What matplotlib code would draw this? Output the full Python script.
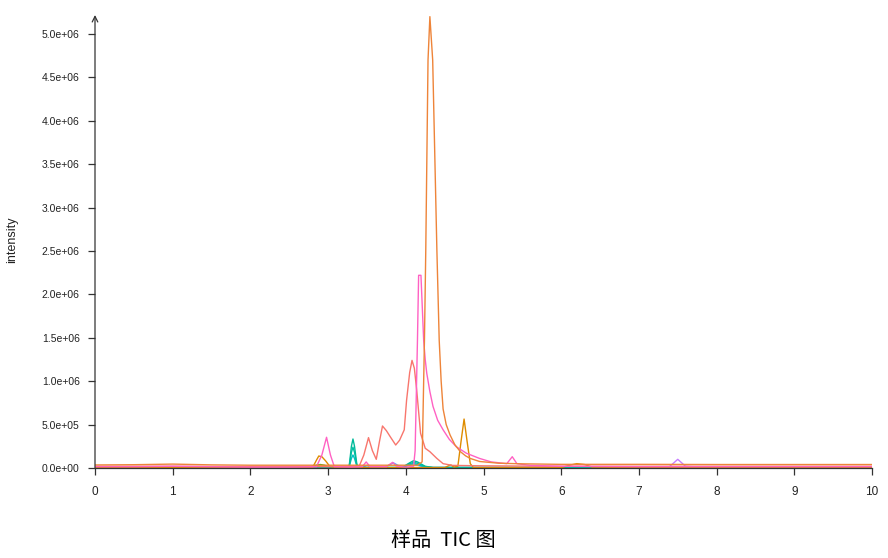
import matplotlib
matplotlib.use("Agg")
import matplotlib.pyplot as plt
from matplotlib.ticker import FuncFormatter

# ---------------- data (retention time in min, intensity) ----------------
orange_x = [0, 0.5, 1.0, 1.5, 2.0, 2.5, 3.0, 3.5, 4.0, 4.15, 4.21, 4.24, 4.257, 4.286, 4.31, 4.346, 4.40, 4.43,
            4.455, 4.48, 4.52, 4.57, 4.63, 4.70, 4.77, 4.83, 4.95, 5.2, 5.5, 6.0, 7.0, 8.0, 9.0, 10.0]
orange_y = [35e3, 38e3, 45e3, 36e3, 32e3, 32e3, 32e3, 32e3, 32e3, 32e3, 70e3, 1.47e6, 2.51e6, 4.70e6, 5.20e6, 4.70e6,
            2.51e6, 1.47e6, 1.0e6, 6.8e5, 5.0e5, 3.8e5, 2.7e5, 1.9e5, 1.4e5, 1.1e5, 7.5e4, 5.5e4, 4.8e4, 4.2e4,
            4.2e4, 4.0e4, 4.0e4, 4.0e4]

pink_x = [0, 0.5, 1.0, 1.5, 2.0, 2.5, 2.85, 2.92, 2.98, 3.03, 3.08, 3.3, 3.44, 3.49, 3.54, 3.75, 3.83, 3.88, 4.0,
          4.10, 4.12, 4.15, 4.165, 4.195, 4.23, 4.25, 4.27, 4.31, 4.35, 4.41, 4.48, 4.56, 4.65, 4.78, 4.95, 5.1,
          5.30, 5.37, 5.43, 5.6, 6.0, 7.0, 8.0, 10.0]
pink_y = [15e3, 15e3, 20e3, 15e3, 10e3, 10e3, 15e3, 1.5e5, 3.54e5, 1.5e5, 1.5e4, 1e4, 1.5e4, 7e4, 1.5e4, 1.5e4,
          6.5e4, 2e4, 1e4, 2e4, 2e5, 1.47e6, 2.22e6, 2.22e6, 1.47e6, 1.25e6, 1.09e6, 8.8e5, 7.1e5, 5.5e5, 4.4e5,
          3.3e5, 2.45e5, 1.7e5, 1.1e5, 7e4, 5e4, 1.3e5, 5e4, 3e4, 2e4, 1.5e4, 1.5e4, 1.5e4]

salmon_x = [0, 1.0, 2.0, 3.0, 3.40, 3.46, 3.52, 3.57, 3.62, 3.66, 3.70, 3.75, 3.80, 3.87, 3.92, 3.98, 4.01, 4.05,
            4.08, 4.11, 4.14, 4.19, 4.25, 4.31, 4.40, 4.48, 4.6, 5.0, 6.0, 8.0, 10.0]
salmon_y = [20e3, 20e3, 15e3, 15e3, 20e3, 1.5e5, 3.5e5, 2.0e5, 1.0e5, 3.0e5, 4.84e5, 4.3e5, 3.6e5, 2.65e5, 3.2e5,
            4.4e5, 7.8e5, 1.1e6, 1.24e6, 1.15e6, 9e5, 4e5, 2.27e5, 1.88e5, 1.1e5, 5e4, 3e4, 2.5e4, 2e4, 2e4, 2e4]

gold_x = [0, 2.7, 2.80, 2.85, 2.88, 2.92, 2.97, 3.02, 3.1, 4.5, 4.55, 4.58, 4.62, 4.67, 4.71, 4.75, 4.79, 4.83,
          4.87, 5.0, 6.0, 6.1, 6.2, 6.3, 6.4, 7.0, 10.0]
gold_y = [5e3, 5e3, 5e3, 9e4, 1.38e5, 1.3e5, 8e4, 2e4, 5e3, 5e3, 2.5e4, 3.5e4, 1e4, 2e4, 3e5, 5.64e5, 3e5, 5e4,
          5e3, 5e3, 5e3, 3e4, 5e4, 4e4, 1e4, 5e3, 5e3]

green_x = [0, 2.75, 2.84, 2.90, 2.96, 3.02, 10.0]
green_y = [4e3, 4e3, 3e4, 4e4, 3e4, 4e3, 4e3]

teal1_x = [0, 3.2, 3.27, 3.30, 3.32, 3.34, 3.37, 3.40, 3.5, 3.95, 4.05, 4.10, 4.15, 4.25, 4.35, 10.0]
teal1_y = [5e3, 5e3, 1e4, 2.5e5, 3.34e5, 2.5e5, 4e4, 1e4, 5e3, 5e3, 6e4, 8.4e4, 7e4, 2e4, 5e3, 5e3]
teal2_x = [0, 3.2, 3.27, 3.30, 3.32, 3.34, 3.37, 3.40, 3.5, 3.95, 4.05, 4.10, 4.15, 4.25, 4.35, 10.0]
teal2_y = [5e3, 5e3, 1e4, 1.8e5, 2.4e5, 1.8e5, 3e4, 1e4, 5e3, 5e3, 5e4, 6.5e4, 5.5e4, 1.5e4, 5e3, 5e3]
teal3_x = [0, 3.2, 3.27, 3.30, 3.32, 3.34, 3.37, 3.40, 3.5, 3.95, 4.05, 4.10, 4.15, 4.25, 4.35, 10.0]
teal3_y = [5e3, 5e3, 1e4, 1.1e5, 1.5e5, 1.1e5, 2e4, 1e4, 5e3, 5e3, 4e4, 5e4, 4e4, 1e4, 5e3, 5e3]

blue_x = [0, 3.7, 3.78, 3.84, 3.90, 3.98, 4.05, 4.10, 4.16, 4.25, 10.0]
blue_y = [4e3, 4e3, 3e4, 6e4, 3e4, 1e4, 3e4, 5e4, 3e4, 5e3, 4e3]

purple_x = [0, 3.44, 3.50, 3.56, 7.38, 7.45, 7.50, 7.55, 7.60, 7.70, 7.8, 10.0]
purple_y = [4e3, 4e3, 3e4, 4e3, 5e3, 6e4, 1.0e5, 6e4, 2e4, 1.5e4, 5e3, 5e3]

navy_x = [0, 10.0]
navy_y = [3e3, 3e3]

x_ticks = [0, 1, 2, 3, 4, 5, 6, 7, 8, 9, 10]
y_ticks = [0, 5e5, 1e6, 1.5e6, 2e6, 2.5e6, 3e6, 3.5e6, 4e6, 4.5e6, 5e6]

series = [
    (navy_x, navy_y, "#2E2F6E"),
    (green_x, green_y, "#39B600"),
    (blue_x, blue_y, "#619CFF"),
    (purple_x, purple_y, "#C77CFF"),
    (teal3_x, teal3_y, "#00BFC4"),
    (teal2_x, teal2_y, "#00C1A3"),
    (teal1_x, teal1_y, "#00BA9A"),
    (gold_x, gold_y, "#DE8C00"),
    (salmon_x, salmon_y, "#F8766D"),
    (pink_x, pink_y, "#FF61C3"),
    (orange_x, orange_y, "#EE8439"),
]

# ---------------- figure ----------------
W, H = 888, 558
fig = plt.figure(figsize=(W / 100, H / 100), dpi=100)
left, right, bottom_px, top_px = 95, 872, 468, 15
ax = fig.add_axes([left / W, (H - bottom_px) / H, (right - left) / W, (bottom_px - top_px) / H])

for xs, ys, c in series:
    ax.plot(xs, ys, color=c, lw=1.0, solid_joinstyle="round")

ymax = (bottom_px - top_px) / 86.8e-6
ax.set_xlim(0, 10)
ax.set_ylim(0, ymax)

axis_color = "#333333"
for s in ["top", "right", "left"]:
    ax.spines[s].set_visible(False)
ax.spines["bottom"].set_color(axis_color)
ax.spines["bottom"].set_linewidth(0.9)
ax.annotate("", xy=(0, 1.0), xytext=(0, 0), xycoords="axes fraction",
            arrowprops=dict(arrowstyle="->", color=axis_color, lw=0.9,
                            shrinkA=0, shrinkB=0, mutation_scale=10))

ax.set_xticks(x_ticks)
ax.set_yticks(y_ticks)
ax.yaxis.set_major_formatter(FuncFormatter(lambda v, p: "%.1e" % v))
ax.tick_params(axis="x", direction="out", length=5, width=0.9, color=axis_color,
               labelsize=8.5, pad=8, labelcolor="#222222")
ax.tick_params(axis="y", direction="out", length=5, width=0.9, color=axis_color,
               labelsize=7.5, pad=6, labelcolor="#222222")
for lab in ax.get_xticklabels() + ax.get_yticklabels():
    lab.set_fontfamily("Liberation Sans")

fig.text(12 / W, 1 - 240 / H, "intensity", rotation=90, ha="center", va="center",
         fontsize=9, family="Liberation Sans", color="#222222")
fig.text(443 / W, 1 - 540 / H, "样品  TIC 图", ha="center", va="center", fontsize=14.5,
         family=["Noto Sans CJK SC", "DejaVu Sans"], color="black")

fig.savefig("out.png", dpi=100)
